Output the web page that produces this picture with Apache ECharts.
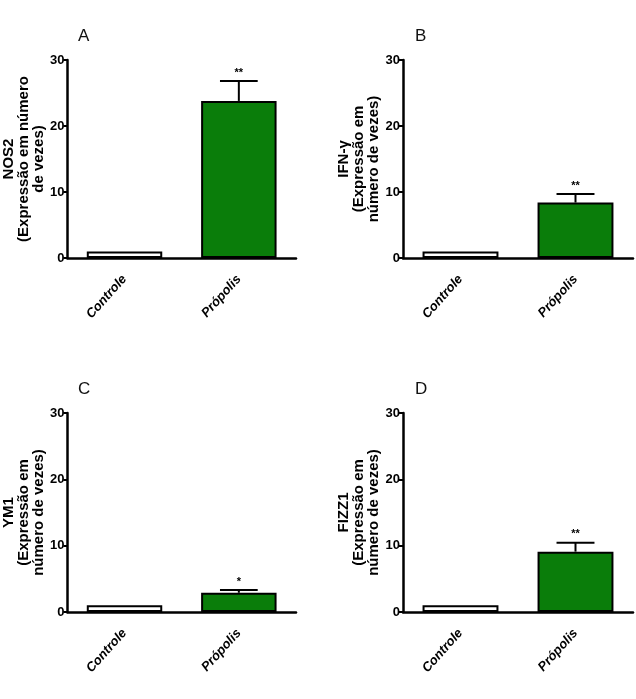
<!DOCTYPE html>
<html>
<head>
<meta charset="utf-8">
<script src="https://cdn.jsdelivr.net/npm/echarts@6/dist/echarts.min.js"></script>
<style>
  html, body { margin: 0; padding: 0; background: #fff; }
  #chart { width: 636px; height: 699px; }
</style>
</head>
<body>
<div id="chart"></div>
<script>
// dados
const categories = ['Controle', 'Própolis'];
const panelLetters = ['A', 'B', 'C', 'D'];
const axisNames = [
  'NOS2\n(Expressão em número\nde vezes)',
  'IFN-γ\n(Expressão em\nnúmero de vezes)',
  'YM1\n(Expressão em\nnúmero de vezes)',
  'FIZZ1\n(Expressão em\nnúmero de vezes)'
];
const meanNOS2 = [1, 23.8];
const semNOS2 = [0, 3.0];
const meanIFN = [1, 8.4];
const semIFN = [0, 1.3];
const meanYM1 = [1, 2.9];
const semYM1 = [0, 0.4];
const meanFIZZ1 = [1, 9.1];
const semFIZZ1 = [0, 1.35];
const starsNOS2 = ['', '**'];
const starsIFN = ['', '**'];
const starsYM1 = ['', '*'];
const starsFIZZ1 = ['', '**'];
const yTicks = [0, 10, 20, 30];

const means = [meanNOS2, meanIFN, meanYM1, meanFIZZ1];
const sems = [semNOS2, semIFN, semYM1, semFIZZ1];
const stars = [starsNOS2, starsIFN, starsYM1, starsFIZZ1];

// posições dos 4 painéis
const grids = [
  { left: 65, top: 60, width: 231, height: 198 },
  { left: 403, top: 60, width: 230, height: 198 },
  { left: 65, top: 413, width: 231, height: 199 },
  { left: 403, top: 413, width: 230, height: 199 }
];
const letterPos = [
  { left: 73, top: 23 },
  { left: 410, top: 23 },
  { left: 73, top: 376 },
  { left: 410, top: 376 }
];

const font = 'Liberation Sans, Arial, sans-serif';

const option = {
  animation: false,
  backgroundColor: '#fff',
  title: panelLetters.map((t, i) => ({
    text: t,
    left: letterPos[i].left,
    top: letterPos[i].top,
    textStyle: { fontFamily: font, fontSize: 17, fontWeight: 'normal', color: '#111' }
  })),
  grid: grids.map(g => Object.assign({ containLabel: false }, g)),
  xAxis: grids.map((g, i) => ({
    type: 'category',
    gridIndex: i,
    data: categories,
    axisLine: { lineStyle: { color: '#000', width: 2.5 } },
    axisTick: { alignWithLabel: true, length: 5, lineStyle: { color: '#000', width: 2 } },
    axisLabel: {
      rotate: 48,
      margin: 19,
      fontFamily: font,
      fontSize: 13,
      fontWeight: 'bold',
      fontStyle: 'italic',
      color: '#000'
    }
  })),
  yAxis: grids.map((g, i) => ({
    type: 'value',
    gridIndex: i,
    min: 0,
    max: 30,
    interval: 10,
    name: axisNames[i],
    nameLocation: 'middle',
    nameRotate: 90,
    nameGap: 21,
    nameTextStyle: { fontFamily: font, fontSize: 15, fontWeight: 'bold', color: '#000', lineHeight: 15 },
    axisLine: { show: true, lineStyle: { color: '#000', width: 2.5 } },
    axisTick: { show: true, length: 4, lineStyle: { color: '#000', width: 2 } },
    axisLabel: {
      margin: 3,
      fontFamily: font,
      fontSize: 13,
      fontWeight: 'bold',
      color: '#000',
      formatter: v => (yTicks.indexOf(v) >= 0 ? String(v) : '')
    },
    splitLine: { show: false }
  })),
  series: []
};

means.forEach((m, i) => {
  option.series.push({
    type: 'bar',
    xAxisIndex: i,
    yAxisIndex: i,
    barWidth: '66%',
    z: 2,
    data: m.map((v, j) => ({
      value: v,
      itemStyle: { color: j === 0 ? '#fff' : '#0a7d0a', borderColor: '#000', borderWidth: 2 }
    }))
  });
  // barras de erro + asteriscos
  option.series.push({
    type: 'custom',
    xAxisIndex: i,
    yAxisIndex: i,
    z: 1,
    data: m.map((v, j) => [j, v, sems[i][j]]),
    renderItem: function (params, api) {
      const j = api.value(0);
      const mean = api.value(1);
      const sem = api.value(2);
      const star = stars[i][j];
      const base = api.coord([j, mean]);
      const top = api.coord([j, mean + sem]);
      const half = api.size([1, 0])[0] * 0.165;
      const children = [];
      if (sem > 0) {
        children.push({
          type: 'line',
          shape: { x1: base[0], y1: base[1], x2: top[0], y2: top[1] },
          style: { stroke: '#000', lineWidth: 2 }
        });
        children.push({
          type: 'line',
          shape: { x1: top[0] - half, y1: top[1], x2: top[0] + half, y2: top[1] },
          style: { stroke: '#000', lineWidth: 2 }
        });
      }
      if (star) {
        children.push({
          type: 'text',
          x: top[0],
          y: top[1] - 3,
          style: {
            text: star,
            fontFamily: font,
            fontSize: 11,
            fontWeight: 'bold',
            fill: '#000',
            align: 'center',
            verticalAlign: 'bottom'
          }
        });
      }
      return { type: 'group', children: children };
    }
  });
});

const chart = echarts.init(document.getElementById('chart'));
chart.setOption(option);
</script>
</body>
</html>
